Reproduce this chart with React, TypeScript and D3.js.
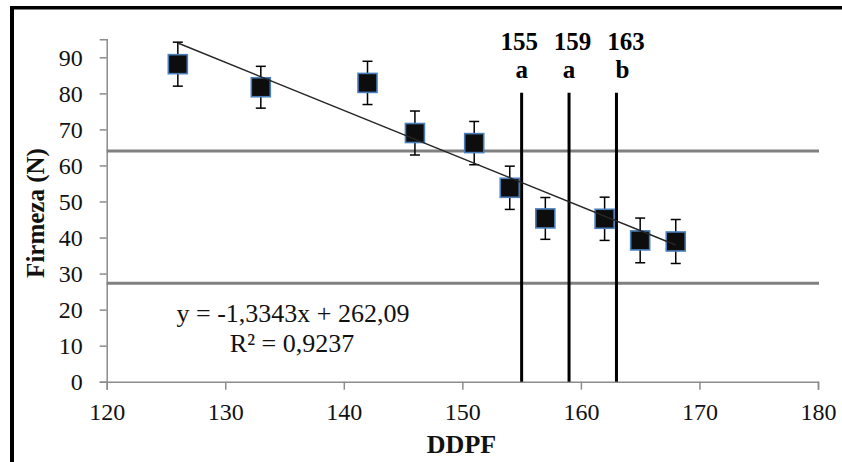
import React, { useEffect, useRef } from 'react';
import * as d3 from 'd3';

// DDPF (días) y firmeza (N)
const ddpf = [126, 133, 142, 146, 151, 154, 157, 162, 165, 168];
const firmeza = [88.1, 81.7, 82.9, 69.0, 66.2, 53.8, 45.3, 45.2, 39.2, 38.9];
const errores = [6.1, 5.8, 6.0, 6.1, 6.0, 6.0, 5.8, 6.0, 6.2, 6.1];

const xTicks = [120, 130, 140, 150, 160, 170, 180];
const yTicks = [0, 10, 20, 30, 40, 50, 60, 70, 80, 90];

// recta de regresión
const pendiente = -1.3343;
const intercepto = 262.09;
const ecuacion = 'y = -1,3343x + 262,09';
const r2 = 'R² = 0,9237';

// límites horizontales
const limites = [64.0, 27.3];

// fechas marcadas
const marcas = [155, 159, 163];
const marcaTope = 80.2;
const marcaNumX = [154.8, 159.3, 163.8];
const marcaLetraX = [155, 159, 163.5];
const marcaLetras = ['a', 'a', 'b'];

export default function App() {
  const ref = useRef<SVGSVGElement>(null);

  useEffect(() => {
    const width = 842;
    const height = 462;
    const left = 106.7, right = 818, top = 39.3, bottom = 381.7;
    const font = '"Liberation Serif", "Times New Roman", serif';

    const svg = d3.select(ref.current);
    svg.selectAll('*').remove();
    svg.attr('width', width).attr('height', height);

    // marco
    svg.append('line').attr('x1', 10).attr('x2', width).attr('y1', 7.8).attr('y2', 7.8)
      .attr('stroke', '#000').attr('stroke-width', 3.6);
    svg.append('line').attr('x1', 12).attr('x2', 12).attr('y1', 6).attr('y2', height)
      .attr('stroke', '#000').attr('stroke-width', 4);

    const x = d3.scaleLinear().domain([120, 180]).range([left, right]);
    const y = d3.scaleLinear().domain([0, 95]).range([bottom, top]);

    // ejes
    const xAxis = svg.append('g')
      .attr('transform', `translate(0,${bottom})`)
      .call(d3.axisBottom(x).tickValues(xTicks).tickSize(8).tickPadding(13).tickFormat(d => String(d)));
    const yAxis = svg.append('g')
      .attr('transform', `translate(${left},0)`)
      .call(d3.axisLeft(y).tickValues(yTicks).tickSize(7).tickPadding(17).tickFormat(d => String(d)));
    [xAxis, yAxis].forEach(g => {
      g.select('.domain').attr('stroke', '#8c8c8c').attr('stroke-width', 1.5);
      g.selectAll('.tick line').attr('stroke', '#8c8c8c').attr('stroke-width', 1.5);
      g.selectAll('.tick text').attr('fill', '#111').attr('font-family', font).attr('font-size', 24);
    });
    xAxis.selectAll('.tick text').attr('dy', '0.72em');
    yAxis.selectAll('.tick text').attr('dy', '0.33em');

    // límites horizontales
    svg.selectAll('.limite').data(limites).enter().append('line')
      .attr('x1', left).attr('x2', right + 1)
      .attr('y1', d => y(d)).attr('y2', d => y(d))
      .attr('stroke', '#808080').attr('stroke-width', 3);

    // líneas verticales
    svg.selectAll('.marca').data(marcas).enter().append('line')
      .attr('x1', d => x(d)).attr('x2', d => x(d))
      .attr('y1', y(0)).attr('y2', y(marcaTope))
      .attr('stroke', '#000').attr('stroke-width', 3);

    svg.selectAll('.marcaNum').data(marcas).enter().append('text')
      .attr('x', (d, i) => x(marcaNumX[i])).attr('y', 49.5)
      .attr('text-anchor', 'middle').attr('font-family', font).attr('font-weight', 'bold')
      .attr('font-size', 25).attr('fill', '#000').text(d => String(d));
    svg.selectAll('.marcaLetra').data(marcaLetras).enter().append('text')
      .attr('x', (d, i) => x(marcaLetraX[i])).attr('y', 77.5)
      .attr('text-anchor', 'middle').attr('font-family', font).attr('font-weight', 'bold')
      .attr('font-size', 25).attr('fill', '#000').text(d => d);

    const puntos = ddpf.map((d, i) => ({ x: d, y: firmeza[i], e: errores[i] }));

    // barras de error
    const err = svg.append('g').attr('stroke', '#000').attr('stroke-width', 1.5);
    puntos.forEach(p => {
      err.append('line').attr('x1', x(p.x)).attr('x2', x(p.x))
        .attr('y1', y(p.y - p.e)).attr('y2', y(p.y + p.e));
      [p.y - p.e, p.y + p.e].forEach(v => {
        err.append('line').attr('x1', x(p.x) - 5).attr('x2', x(p.x) + 5)
          .attr('y1', y(v)).attr('y2', y(v));
      });
    });

    // marcadores
    svg.selectAll('.punto').data(puntos).enter().append('rect')
      .attr('x', d => x(d.x) - 9.5).attr('y', d => y(d.y) - 9.5)
      .attr('width', 19).attr('height', 19)
      .attr('fill', '#0d0d0d').attr('stroke', '#4a7ebb').attr('stroke-width', 1.6);

    // línea de tendencia
    const xs = d3.extent(ddpf) as [number, number];
    svg.append('path')
      .datum(xs)
      .attr('d', d3.line<number>().x(d => x(d)).y(d => y(pendiente * d + intercepto)))
      .attr('stroke', '#262626').attr('stroke-width', 1.4).attr('fill', 'none');

    // ecuación
    svg.append('text').attr('x', 293).attr('y', 322).attr('text-anchor', 'middle')
      .attr('font-family', font).attr('font-size', 26).attr('fill', '#111').text(ecuacion);
    svg.append('text').attr('x', 292).attr('y', 352).attr('text-anchor', 'middle')
      .attr('font-family', font).attr('font-size', 26).attr('fill', '#111').text(r2);

    // títulos
    svg.append('text').attr('x', 461.5).attr('y', 453).attr('text-anchor', 'middle')
      .attr('font-family', font).attr('font-weight', 'bold').attr('font-size', 26)
      .attr('fill', '#111').text('DDPF');
    svg.append('text').attr('transform', 'translate(44,213) rotate(-90)')
      .attr('text-anchor', 'middle').attr('font-family', font).attr('font-weight', 'bold')
      .attr('font-size', 25).attr('fill', '#111').text('Firmeza (N)');
  }, []);

  return (
    <div style={{ position: 'absolute', left: 0, top: 0 }}>
      <svg ref={ref} style={{ display: 'block', background: '#fff' }} />
    </div>
  );
}
